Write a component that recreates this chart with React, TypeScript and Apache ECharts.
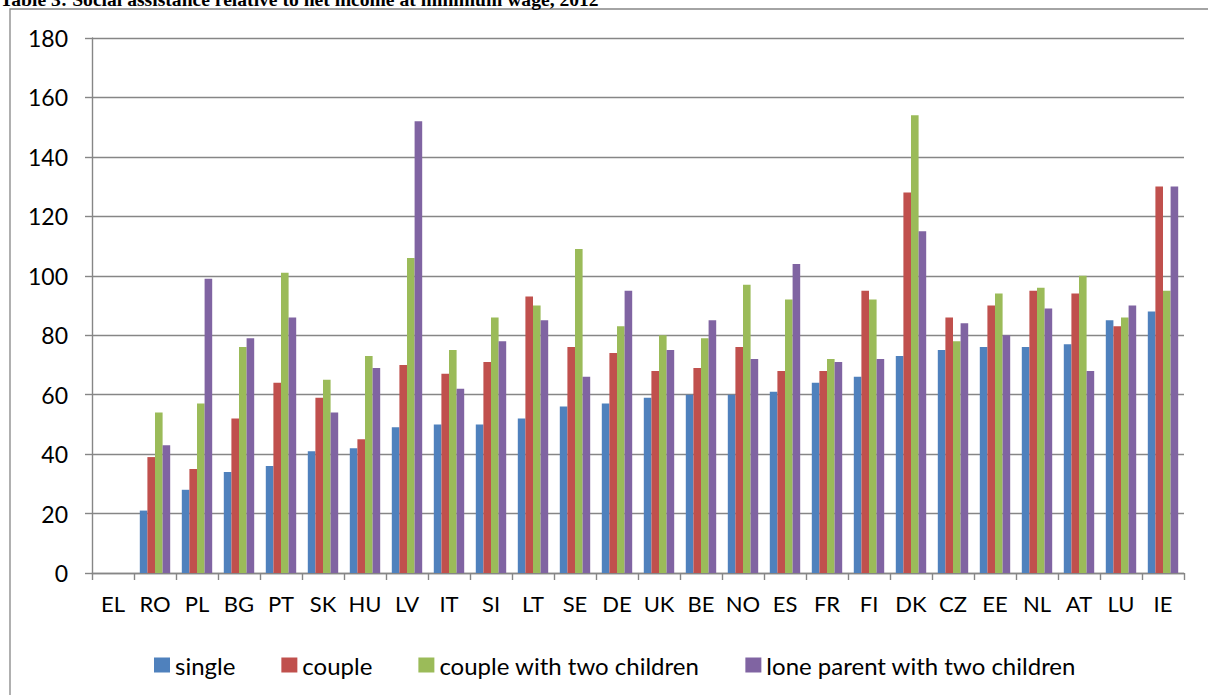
import React, { useEffect, useRef } from "react";
import * as echarts from "echarts";

const categories = ["EL","RO","PL","BG","PT","SK","HU","LV","IT","SI","LT","SE","DE","UK","BE","NO","ES","FR","FI","DK","CZ","EE","NL","AT","LU","IE"];
const single = [null,21,28,34,36,41,42,49,50,50,52,56,57,59,60,60,61,64,66,73,75,76,76,77,85,88];
const couple = [null,39,35,52,64,59,45,70,67,71,93,76,74,68,69,76,68,68,95,128,86,90,95,94,83,130];
const coupleTwoChildren = [null,54,57,76,101,65,73,106,75,86,90,109,83,80,79,97,92,72,92,154,78,94,96,100,86,95];
const loneParentTwoChildren = [null,43,99,79,86,54,69,152,62,78,85,66,95,75,85,72,104,71,72,115,84,80,89,68,90,130];
const seriesNames = ["single","couple","couple with two children","lone parent with two children"];
const colors = ["#4F81BD","#C0504D","#9BBB59","#8064A2"];
const yTicks = { min: 0, max: 180, interval: 20 };
const titleText = "Table 3: Social assistance relative to net income at minimum wage, 2012";

export default function App() {
  const ref = useRef<HTMLDivElement>(null);
  useEffect(() => {
    if (!ref.current) return;
    const chart = echarts.init(ref.current, null, { renderer: "svg" });
    const font = "Lato";
    const data = [single, couple, coupleTwoChildren, loneParentTwoChildren];
    chart.setOption({
      animation: false,
      backgroundColor: "#fff",
      color: colors,
      graphic: [
        {
          type: "rect",
          shape: { x: 10, y: 9, width: 1400, height: 900 },
          style: { fill: "none", stroke: "#868686", lineWidth: 1.3 },
          silent: true,
        },
        {
          type: "text",
          x: 0,
          y: -11,
          style: {
            text: titleText,
            fontFamily: "Liberation Serif",
            fontWeight: "bold",
            fontSize: 19.6,
            fill: "#000",
            verticalAlign: "top",
          },
        },
      ],
      grid: { left: 92, right: 24, top: 38, bottom: 122, containLabel: false },
      legend: {
        left: 149,
        top: 648,
        itemWidth: 16,
        itemHeight: 15,
        itemGap: 46,
        icon: "rect",
        textStyle: { fontFamily: font, fontSize: 24, color: "#000" },
        data: seriesNames,
      },
      xAxis: {
        type: "category",
        data: categories,
        axisLine: { lineStyle: { color: "#868686", width: 1.4 } },
        axisTick: { show: true, interval: 0, length: 7, lineStyle: { color: "#868686", width: 1.4 } },
        axisLabel: { interval: 0, hideOverlap: false, color: "#000", fontFamily: font, fontSize: 22, margin: 19 },
      },
      yAxis: {
        type: "value",
        min: yTicks.min,
        max: yTicks.max,
        interval: yTicks.interval,
        axisLine: { show: true, lineStyle: { color: "#868686", width: 1.4 } },
        axisTick: { show: true, length: 7, lineStyle: { color: "#868686", width: 1.4 } },
        axisLabel: { color: "#000", fontFamily: font, fontSize: 23, margin: 24 },
        splitLine: { lineStyle: { color: "#868686", width: 1.4 } },
      },
      series: seriesNames.map((name, i) => ({
        name,
        type: "bar",
        data: data[i],
        barWidth: 7.6,
        barGap: "0%",
        itemStyle: { color: colors[i] },
      })),
    });
    return () => chart.dispose();
  }, []);
  return (
    <div
      ref={ref}
      style={{ position: "fixed", left: 0, top: 0, width: 1208, height: 695 }}
    />
  );
}
